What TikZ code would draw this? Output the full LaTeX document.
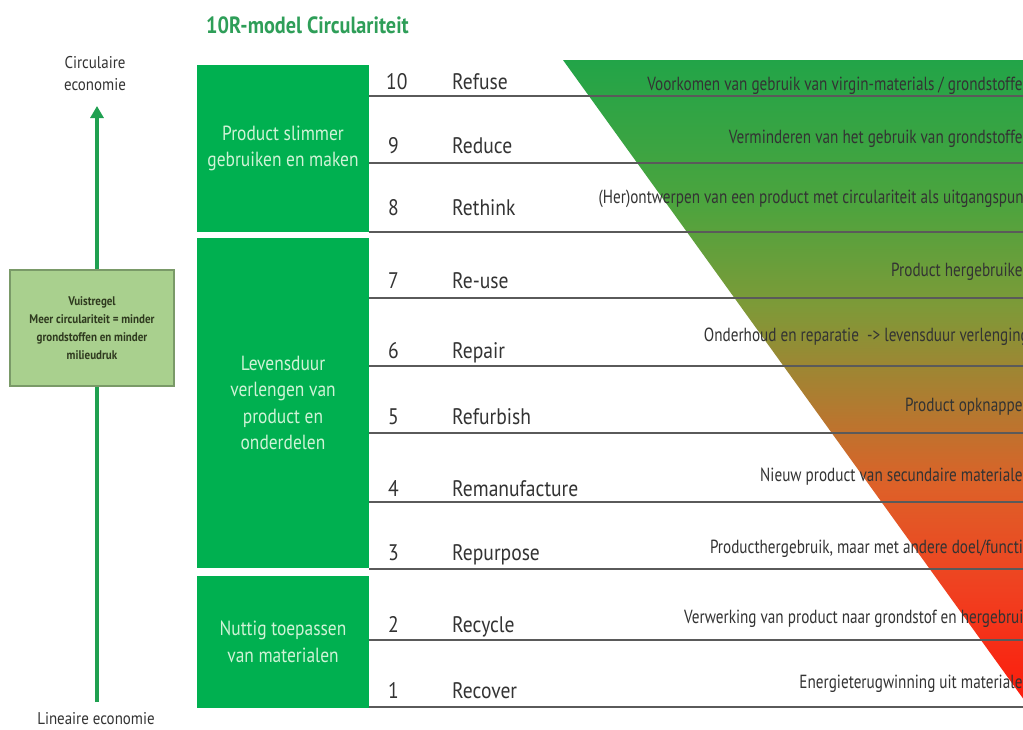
\documentclass[tikz,border=0pt]{standalone}
\usepackage{fontspec}
\setmainfont{PT Sans}
\newfontfamily\labfont{PT Sans}[FakeStretch=0.87]
\newfontfamily\descfont{PT Sans}[FakeStretch=0.8]
\newfontfamily\boxfont{PT Sans}[FakeStretch=0.85]
\newfontfamily\titlefont{PT Sans}[FakeStretch=0.86]
\newfontfamily\smallfont{PT Sans}[FakeStretch=0.88]
\usetikzlibrary{arrows.meta}
\definecolor{boxgreen}{HTML}{00B050}
\definecolor{boxtext}{HTML}{CFF3D6}
\definecolor{titlegreen}{HTML}{2E9E58}
\definecolor{arrowgreen}{HTML}{1FA050}
\definecolor{rulefill}{HTML}{A9D08E}
\definecolor{ruledraw}{HTML}{7A9A68}
\definecolor{ruletext}{HTML}{2F3A1F}
\definecolor{txtgray}{HTML}{333333}
\definecolor{linegray}{HTML}{5A5A5A}
\definecolor{tGrA}{HTML}{22A448}
\definecolor{tGrB}{HTML}{4CA43E}
\definecolor{tOl}{HTML}{7D9A38}
\definecolor{tBr}{HTML}{B27A30}
\definecolor{tOrA}{HTML}{DE6028}
\definecolor{tOrB}{HTML}{F04020}
\definecolor{tRed}{HTML}{FF1408}
\pgfdeclareverticalshading{trishade}{100bp}{color(0bp)=(tRed); color(25bp)=(tRed); color(35bp)=(tOrB); color(42.7bp)=(tOrA); color(48.8bp)=(tBr); color(56.5bp)=(tOl); color(64.2bp)=(tGrB); color(75bp)=(tGrA); color(100bp)=(tGrA)}
\begin{document}
\begin{tikzpicture}[x=1pt,y=-1pt,
  gbox/.style={fill=boxgreen, draw=none, text=boxtext, align=center,
    font=\boxfont\fontsize{20.5}{26.5}\selectfont},
  rowline/.style={draw=linegray, line width=1.5pt},
  numlab/.style={anchor=base west, text=txtgray, inner sep=0pt,
    font=\labfont\fontsize{22.5}{24}\selectfont},
  namelab/.style={anchor=base west, text=txtgray, inner sep=0pt,
    font=\labfont\fontsize{22.5}{24}\selectfont},
  desclab/.style={anchor=base east, text=txtgray, inner sep=0pt,
    font=\descfont\fontsize{19}{22}\selectfont},
  sidelab/.style={text=txtgray, align=center, inner sep=0pt,
    font=\smallfont\fontsize{17}{22}\selectfont},
  rulebox/.style={fill=rulefill, draw=ruledraw, line width=1.5pt, text=ruletext,
    align=center, minimum width=164pt, minimum height=116pt,
    font=\smallfont\bfseries\fontsize{12.5}{18}\selectfont},
  arrowline/.style={draw=arrowgreen, line width=4pt, -{Triangle[length=12pt,width=13pt]}}
]
\useasboundingbox (0,0) rectangle (1023,729);
\clip (0,0) rectangle (1023,729);
\fill[white] (0,0) rectangle (1023,729);

% title
\node[anchor=base west, inner sep=0pt, text=titlegreen,
  font=\titlefont\bfseries\fontsize{23.5}{26}\selectfont] (title) at (206,33) {10R-model Circulariteit};

% gradient triangle
\shade[shading=trishade] (563,60) -- (1040,60) -- (1040,722) -- cycle;

% row lines
\foreach \yy/\nm in {96/l10,163/l9,232/l8,298/l7,366/l6,433/l5,502/l4,569/l3,640/l2,707/l1}{
  \coordinate (\nm a) at (369,\yy);
  \coordinate (\nm b) at (1023,\yy);
  \draw[rowline] (\nm a) -- (\nm b);
}

% green boxes
\node[gbox, minimum width=172pt, minimum height=167pt] (b1) at (283,148.5) {Product slimmer\\gebruiken en maken};
\node[gbox, minimum width=172pt, minimum height=330pt] (b2) at (283,403) {Levensduur\\verlengen van\\product en\\onderdelen};
\node[gbox, minimum width=172pt, minimum height=132pt] (b3) at (283,642) {Nuttig toepassen\\van materialen};

% numbers and names
\node[numlab] (n10) at (386,89) {10};
\node[namelab] (r10) at (452,89) {Refuse};
\node[numlab] (n9) at (388,153) {9};
\node[namelab] (r9) at (452,153) {Reduce};
\node[numlab] (n8) at (388,215) {8};
\node[namelab] (r8) at (452,215) {Rethink};
\node[numlab] (n7) at (388,288) {7};
\node[namelab] (r7) at (452,288) {Re-use};
\node[numlab] (n6) at (388,358) {6};
\node[namelab] (r6) at (452,358) {Repair};
\node[numlab] (n5) at (388,424) {5};
\node[namelab] (r5) at (452,424) {Refurbish};
\node[numlab] (n4) at (388,496) {4};
\node[namelab] (r4) at (452,496) {Remanufacture};
\node[numlab] (n3) at (388,560) {3};
\node[namelab] (r3) at (452,560) {Repurpose};
\node[numlab] (n2) at (388,632) {2};
\node[namelab] (r2) at (452,632) {Recycle};
\node[numlab] (n1) at (388,698) {1};
\node[namelab] (r1) at (452,698) {Recover};

% descriptions
\node[desclab] (d10) at (1031,90) {Voorkomen van gebruik van virgin-materials / grondstoffen};
\node[desclab] (d9) at (1031,143) {Verminderen van het gebruik van grondstoffen};
\node[desclab] (d8) at (1029,203) {(Her)ontwerpen van een product met circulariteit als uitgangspunt};
\node[desclab] (d7) at (1031,276) {Product hergebruiken};
\node[desclab] (d6) at (1029,341) {Onderhoud en reparatie\ \ -> levensduur verlenging};
\node[desclab] (d5) at (1031,411) {Product opknappen};
\node[desclab] (d4) at (1031,481) {Nieuw product van secundaire materialen};
\node[desclab] (d3) at (1031,553) {Producthergebruik, maar met andere doel/functie};
\node[desclab] (d2) at (1031,623) {Verwerking van product naar grondstof en hergebruik};
\node[desclab] (d1) at (1031,688) {Energieterugwinning uit materialen};

% left axis
\node[sidelab] (circ) at (95,74) {Circulaire\\economie};
\node[sidelab] (lin) at (96,719) {Lineaire economie};
\coordinate (abot) at (97,702);
\coordinate (atop) at (97,106);
\draw[arrowline] (abot) -- (atop);
\node[rulebox] (rule) at (92,328) {Vuistregel\\Meer circulariteit = minder\\grondstoffen en minder\\milieudruk};
\end{tikzpicture}
\end{document}
